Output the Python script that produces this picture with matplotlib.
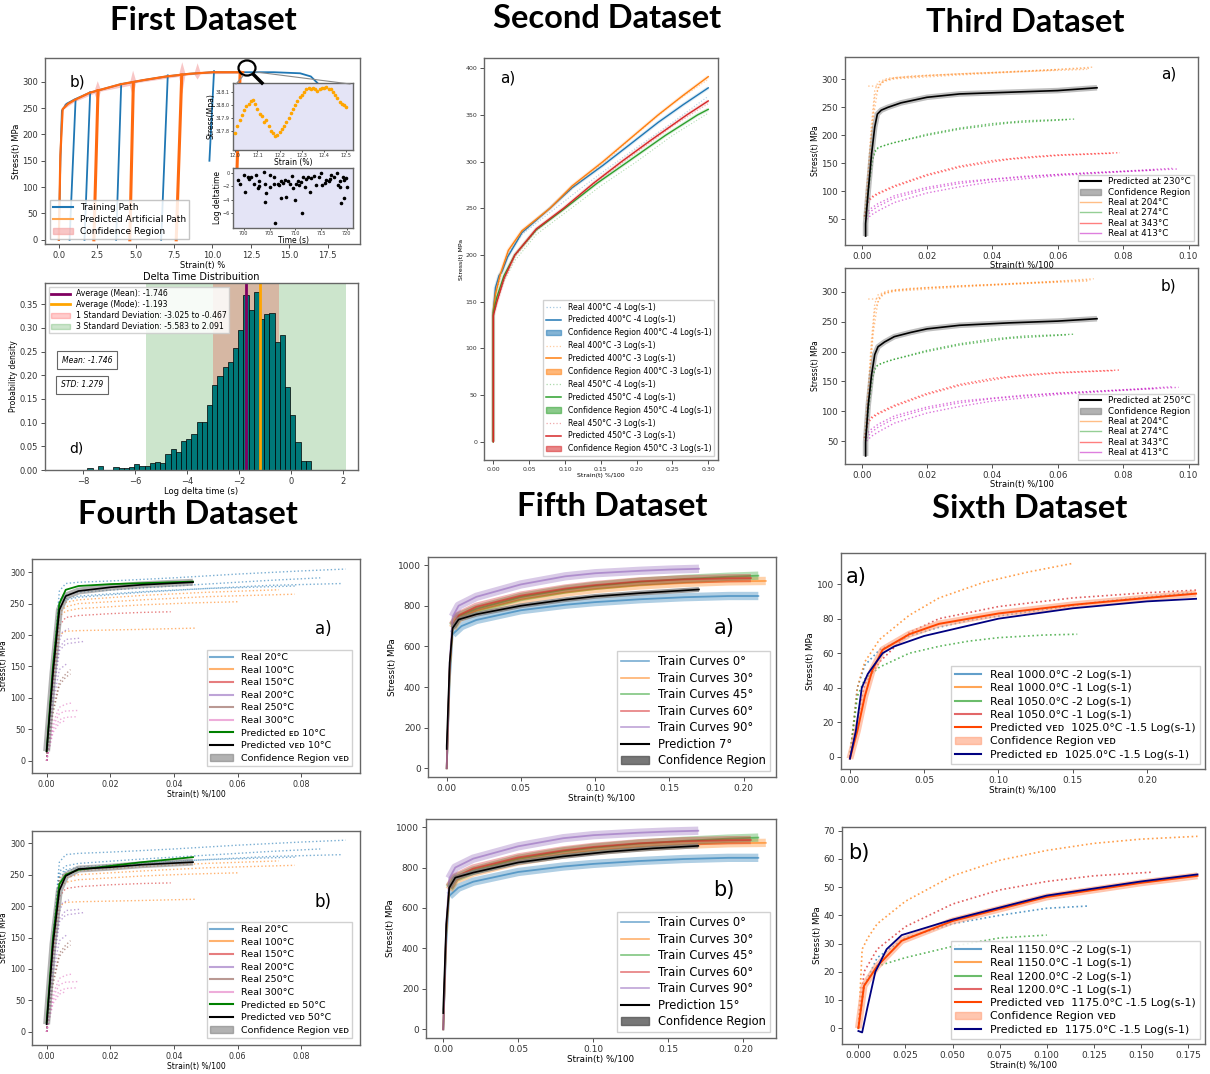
import matplotlib
matplotlib.use('Agg')
import matplotlib.pyplot as plt
import numpy as np
from matplotlib.patches import Patch, Circle
from matplotlib.lines import Line2D

plt.rcParams['font.family'] = ['DejaVu Sans']

W, H = 1210, 1074
fig = plt.figure(figsize=(W / 100, H / 100), dpi=100)


def add_ax(x0, y0, x1, y1):
    return fig.add_axes([x0 / W, 1 - y1 / H, (x1 - x0) / W, (y1 - y0) / H])


def style(ax, fs=6):
    for s in ax.spines.values():
        s.set_color('#666666')
        s.set_linewidth(1.0)
    ax.tick_params(labelsize=fs, length=3, width=0.6, colors='#333333', pad=2)


def ftitle(x, y, s):
    fig.text(x / W, 1 - y / H, s, ha='center', va='center', fontsize=23.5,
             fontweight='bold', family=['Lato', 'DejaVu Sans'])


C_BLUE, C_ORANGE, C_GREEN, C_RED = '#1f77b4', '#ff7f0e', '#2ca02c', '#d62728'
C_PURPLE, C_BROWN, C_PINK = '#9467bd', '#8c564b', '#e377c2'

# ---------------------------------------------------------------- DATA
# First dataset (b)
train_env_x = [0.0, 0.1, 0.2, 0.5, 1.0, 2.0, 3.0, 4.0, 5.5, 7.0, 8.5, 10.0, 12.0, 14.0, 15.7, 16.4, 16.85, 17.2]
train_env_y = [0, 150, 245, 258, 266, 279, 287, 295, 303, 310, 315, 318, 318, 318, 316, 310, 297, 280]
train_reload_x0 = [0.70, 1.67, 3.73, 6.66, 9.80]
train_reload_x1 = [1.09, 2.04, 4.06, 7.09, 10.10]
train_reload_ybot = [0, 0, 0, 0, 150]
train_reload_ytop = [266, 280, 296, 312, 320]
pred_env_x = [0.0, 0.1, 0.25, 0.6, 1.0, 2.0, 3.0, 4.0, 5.5, 7.0, 8.5, 10.0, 11.0, 12.0]
pred_env_y = [0, 160, 248, 258, 265, 279, 287, 295, 303, 310, 315, 318, 318, 318]
pred_reload_x0 = [2.28, 4.62, 7.64, 11.58]
pred_reload_x1 = [2.55, 4.85, 8.00, 11.80]
pred_reload_ybot = [0, 0, 0, 120]
pred_reload_ytop = [283, 298, 313, 318]
conf_x = [0.3, 1.0, 2.3, 2.5, 2.7, 4.6, 4.8, 5.0, 7.8, 8.0, 8.2, 8.8, 9.0, 9.2, 12.0]
conf_lo = [248, 262, 278, 262, 282, 293, 272, 298, 310, 278, 312, 314, 305, 315, 316]
conf_hi = [258, 268, 284, 302, 286, 298, 322, 302, 315, 338, 317, 317, 336, 318, 320]
zoom_strain = [12.00, 12.01, 12.02, 12.03, 12.04, 12.05, 12.06, 12.07, 12.08, 12.09, 12.10, 12.11,
               12.12, 12.13, 12.14, 12.15, 12.16, 12.17, 12.18, 12.19, 12.20, 12.21, 12.22, 12.23,
               12.24, 12.25, 12.26, 12.27, 12.28, 12.29, 12.30, 12.31, 12.32, 12.33, 12.34, 12.35,
               12.36, 12.37, 12.38, 12.39, 12.40, 12.41, 12.42, 12.43, 12.44, 12.45, 12.46, 12.47,
               12.48, 12.49, 12.50]
zoom_stress = [317.78, 317.84, 317.88, 317.92, 317.96, 317.99, 318.01, 318.03, 318.04, 318.01, 317.97, 317.93,
               317.91, 317.87, 317.88, 317.84, 317.80, 317.78, 317.76, 317.77, 317.79, 317.81, 317.84, 317.87,
               317.90, 317.94, 317.97, 318.00, 318.03, 318.06, 318.08, 318.10, 318.12, 318.13, 318.12, 318.13,
               318.12, 318.11, 318.12, 318.13, 318.13, 318.14, 318.12, 318.12, 318.10, 318.08, 318.05, 318.02,
               318.01, 318.00, 317.98]
dt_time = [698.8, 699.2, 700.1, 700.2, 700.8, 701.4, 701.9, 702.4, 702.7, 702.9, 703.9, 704.2, 704.3, 704.1,
           705.0, 705.1, 705.8, 705.9, 706.1, 706.6, 706.9, 707.2, 707.6, 707.9, 707.2, 708.2, 709.4, 709.6,
           710.2, 710.5, 710.7, 711.1, 711.3, 710.0, 711.8, 711.5, 712.4, 712.8, 713.1, 713.7, 714.0, 714.6,
           715.0, 715.2, 715.7, 716.0, 716.5, 717.0, 717.6, 718.1, 718.3, 718.6, 718.9, 719.2, 719.4, 719.4,
           719.9, 720.0, 718.6, 701.0, 703.0, 708.6, 709.0, 712.0, 716.8]
dt_log = [-1.1, -1.6, -0.3, -2.8, -0.6, -0.6, -1.6, -0.3, -2.3, -1.3, 0.15, -1.6, -3.0, -4.3,
          -0.35, -2.1, -0.6, -1.6, -7.4, -1.6, -1.8, -1.3, -1.5, -1.1, -3.8, -3.6, -0.5, -2.3,
          -1.6, -1.3, -1.8, -1.4, -6.0, -4.0, -2.1, -0.6, -0.7, -2.8, -0.8, -0.5, -1.8, -0.6,
          0.0, -1.8, -1.5, -1.1, -1.3, -0.3, -0.6, 0.0, -1.8, -2.1, -4.5, -0.6, -3.8, -1.1,
          -0.8, -2.1, -1.3, -0.9, -1.9, -1.2, -1.7, -1.0, -0.9]

# First dataset (d) histogram
hist_start = -8.84
hist_width = 0.2
hist_heights = [0.001, 0.0, 0.001, 0.001, 0.001, 0.004, 0.0, 0.009, 0.0, 0.0, 0.006, 0.005, 0.004, 0.007,
                0.012, 0.008, 0.008, 0.014, 0.016, 0.015, 0.034, 0.044, 0.037, 0.061, 0.065, 0.077,
                0.102, 0.102, 0.137, 0.180, 0.199, 0.217, 0.229, 0.258, 0.296, 0.370, 0.338, 0.377,
                0.320, 0.330, 0.332, 0.271, 0.285, 0.176, 0.116, 0.060, 0.020, 0.019]
dt_mean, dt_mode = -1.746, -1.193
std1_lo, std1_hi = -3.025, -0.467
std3_lo, std3_hi = -5.583, 2.091

# Second dataset
s2_pred = {
    'b': ([0, 0.0, 0.003, 0.008, 0.012, 0.02, 0.04, 0.079, 0.11, 0.153, 0.19, 0.23, 0.265, 0.30],
          [0, 140, 165, 178, 182, 198, 224, 250, 272, 296, 318, 342, 361, 379]),
    'o': ([0, 0.0, 0.003, 0.01, 0.021, 0.04, 0.079, 0.11, 0.153, 0.19, 0.23, 0.265, 0.30],
          [0, 140, 158, 180, 205, 226, 250, 274, 300, 324, 350, 371, 391]),
    'g': ([0, 0.0, 0.005, 0.015, 0.03, 0.06, 0.10, 0.145, 0.188, 0.24, 0.285, 0.30],
          [0, 138, 155, 178, 200, 227, 250, 277, 300, 328, 350, 356]),
    'r': ([0, 0.0, 0.005, 0.015, 0.03, 0.06, 0.098, 0.14, 0.179, 0.22, 0.27, 0.30],
          [0, 135, 150, 175, 200, 228, 250, 277, 300, 323, 350, 365]),
}
s2_real = {
    'b': ([0.0, 0.003, 0.01, 0.02, 0.04, 0.08, 0.12, 0.16, 0.20, 0.25, 0.30],
          [140, 160, 176, 200, 222, 246, 270, 293, 315, 342, 370]),
    'o': ([0.0, 0.003, 0.01, 0.02, 0.04, 0.08, 0.12, 0.16, 0.20, 0.25, 0.30],
          [140, 157, 178, 202, 225, 251, 278, 303, 330, 362, 388]),
    'g': ([0.0, 0.005, 0.015, 0.03, 0.06, 0.10, 0.15, 0.20, 0.25, 0.30],
          [136, 150, 172, 194, 222, 245, 274, 300, 328, 352]),
    'r': ([0.0, 0.005, 0.015, 0.03, 0.06, 0.10, 0.15, 0.20, 0.25, 0.30],
          [135, 148, 173, 198, 226, 251, 282, 310, 338, 362]),
}

# Third dataset
s3_orange = [([0.0008, 0.002, 0.003, 0.004, 0.005, 0.008, 0.015, 0.03, 0.05, 0.07],
              [55, 140, 220, 280, 295, 302, 306, 310, 315, 320]),
             ([0.0012, 0.002, 0.0035, 0.005, 0.007, 0.01, 0.02, 0.04, 0.06, 0.071],
              [55, 120, 230, 285, 298, 302, 307, 312, 318, 322]),
             ([0.002, 0.005, 0.0055, 0.007, 0.01, 0.03, 0.05, 0.069],
              [288, 288, 292, 298, 303, 310, 314, 318]),
             ([0.001, 0.0025, 0.004, 0.006, 0.01, 0.03, 0.06],
              [50, 170, 270, 295, 301, 308, 317])]
s3_green = [([0.001, 0.002, 0.003, 0.004, 0.005, 0.008, 0.012, 0.02, 0.03, 0.04, 0.05, 0.065],
             [55, 100, 150, 172, 178, 184, 190, 202, 213, 221, 226, 229]),
            ([0.0012, 0.0025, 0.0035, 0.0045, 0.006, 0.01, 0.02, 0.03, 0.045, 0.063],
             [60, 120, 160, 175, 180, 187, 200, 211, 222, 228])]
s3_red = [([0.0008, 0.0015, 0.002, 0.003, 0.005, 0.01, 0.02, 0.03, 0.04, 0.05, 0.06, 0.079],
           [55, 70, 85, 90, 97, 110, 130, 145, 155, 161, 165, 169]),
          ([0.0012, 0.002, 0.003, 0.005, 0.01, 0.02, 0.03, 0.045, 0.06, 0.077],
           [60, 80, 88, 95, 108, 128, 143, 157, 164, 168])]
s3_mag = [([0.0015, 0.003, 0.005, 0.01, 0.02, 0.03, 0.04, 0.06, 0.08, 0.097],
           [50, 58, 65, 80, 97, 108, 117, 128, 135, 140]),
          ([0.0015, 0.003, 0.005, 0.01, 0.02, 0.03, 0.04, 0.06, 0.08, 0.095],
           [55, 65, 73, 88, 104, 114, 121, 130, 136, 141]),
          ([0.0012, 0.003, 0.005, 0.01, 0.02, 0.03, 0.05, 0.07, 0.09],
           [60, 70, 78, 92, 107, 117, 127, 133, 138])]
s3a_pred_x = [0.0012, 0.0012, 0.002, 0.003, 0.004, 0.0048, 0.006, 0.008, 0.012, 0.02, 0.03, 0.045, 0.06, 0.072]
s3a_pred_y = [20, 42, 100, 165, 215, 238, 245, 250, 258, 268, 274, 277, 280, 285]
s3b_pred_x = [0.0012, 0.0012, 0.002, 0.003, 0.004, 0.005, 0.007, 0.01, 0.015, 0.02, 0.03, 0.045, 0.06, 0.072]
s3b_pred_y = [25, 48, 110, 160, 195, 208, 216, 225, 232, 238, 244, 248, 251, 255]

# Fourth dataset
s4_real = {
    'Real 20°C': (C_BLUE, [
        ([0, 0.002, 0.004, 0.006, 0.01, 0.02, 0.04, 0.06, 0.08, 0.094], [0, 150, 270, 282, 284, 286, 291, 297, 302, 305]),
        ([0, 0.002, 0.004, 0.006, 0.01, 0.03, 0.05, 0.07, 0.086], [0, 150, 255, 264, 268, 275, 281, 287, 291]),
        ([0, 0.002, 0.004, 0.006, 0.01, 0.03, 0.05, 0.07, 0.093], [0, 140, 245, 256, 260, 268, 274, 279, 282]),
        ([0, 0.002, 0.004, 0.006, 0.01, 0.03, 0.05, 0.078], [0, 145, 250, 258, 262, 269, 274, 278])]),
    'Real 100°C': (C_ORANGE, [
        ([0, 0.002, 0.004, 0.006, 0.01, 0.03, 0.05, 0.073], [0, 140, 245, 252, 256, 263, 268, 272]),
        ([0, 0.002, 0.004, 0.006, 0.01, 0.03, 0.05, 0.078], [0, 135, 235, 245, 250, 256, 261, 265]),
        ([0, 0.002, 0.004, 0.006, 0.01, 0.03, 0.045, 0.06], [0, 130, 230, 238, 242, 248, 251, 253]),
        ([0, 0.002, 0.004, 0.006, 0.01, 0.03, 0.047], [0, 120, 200, 206, 207, 209, 211])]),
    'Real 150°C': (C_RED, [
        ([0, 0.002, 0.004, 0.006, 0.01, 0.02, 0.03, 0.039], [0, 120, 215, 228, 231, 234, 236, 237])]),
    'Real 200°C': (C_PURPLE, [
        ([0, 0.002, 0.004, 0.005, 0.007], [0, 110, 190, 205, 210]),
        ([0, 0.002, 0.004, 0.006, 0.0105], [0, 105, 180, 193, 195]),
        ([0, 0.002, 0.004, 0.006, 0.012], [0, 100, 175, 186, 190]),
        ([0, 0.002, 0.004, 0.0065], [0, 90, 145, 155])]),
    'Real 250°C': (C_BROWN, [
        ([0, 0.002, 0.004, 0.006, 0.0075], [0, 80, 125, 138, 145]),
        ([0, 0.002, 0.004, 0.006, 0.0075], [0, 75, 120, 133, 138])]),
    'Real 300°C': (C_PINK, [
        ([0, 0.002, 0.004, 0.006, 0.008], [0, 60, 85, 90, 92]),
        ([0, 0.002, 0.004, 0.006, 0.01], [0, 55, 75, 79, 80]),
        ([0, 0.002, 0.004, 0.006, 0.0095], [0, 50, 65, 69, 70]),
        ([0, 0.002, 0.004, 0.006], [0, 45, 60, 64])]),
}
s4a_ed_x = [0, 0.002, 0.004, 0.006, 0.01, 0.02, 0.046]
s4a_ed_y = [15, 150, 250, 272, 278, 281, 285]
s4a_ved_x = [0, 0.002, 0.004, 0.006, 0.01, 0.02, 0.03, 0.046]
s4a_ved_y = [15, 140, 240, 262, 270, 276, 280, 284]
s4b_ed_x = [0, 0.002, 0.004, 0.006, 0.01, 0.02, 0.03, 0.046]
s4b_ed_y = [15, 150, 235, 250, 258, 264, 270, 278]
s4b_ved_x = [0, 0.002, 0.004, 0.006, 0.01, 0.02, 0.03, 0.046]
s4b_ved_y = [12, 140, 225, 248, 259, 262, 266, 270]

# Fifth dataset
s5_train = [
    ('Train Curves 0°', C_BLUE, [0, 0.002, 0.004, 0.01, 0.02, 0.05, 0.08, 0.10, 0.13, 0.16, 0.19, 0.21],
     [0, 420, 660, 700, 730, 778, 805, 818, 832, 842, 848, 848]),
    ('Train Curves 30°', C_ORANGE, [0, 0.002, 0.004, 0.008, 0.02, 0.05, 0.08, 0.10, 0.13, 0.16, 0.19, 0.215],
     [0, 470, 690, 738, 775, 830, 865, 882, 900, 912, 920, 922]),
    ('Train Curves 45°', C_GREEN, [0, 0.002, 0.004, 0.008, 0.02, 0.05, 0.08, 0.10, 0.13, 0.16, 0.19, 0.21],
     [0, 480, 700, 748, 785, 843, 880, 898, 918, 932, 943, 948]),
    ('Train Curves 60°', C_RED, [0, 0.002, 0.004, 0.008, 0.02, 0.05, 0.08, 0.10, 0.13, 0.16, 0.19, 0.205],
     [0, 490, 705, 752, 795, 850, 885, 902, 920, 930, 935, 936]),
    ('Train Curves 90°', C_PURPLE, [0, 0.002, 0.004, 0.008, 0.02, 0.05, 0.08, 0.10, 0.13, 0.15, 0.17],
     [0, 520, 746, 800, 844, 905, 945, 960, 972, 978, 982]),
]
s5a_pred_x = [0, 0, 0.002, 0.004, 0.008, 0.02, 0.05, 0.08, 0.10, 0.13, 0.17]
s5a_pred_y = [95, 110, 520, 690, 732, 758, 800, 830, 846, 862, 880]
s5b_pred_x = [0, 0, 0.002, 0.004, 0.008, 0.02, 0.05, 0.08, 0.11, 0.14, 0.17]
s5b_pred_y = [80, 100, 520, 700, 750, 775, 825, 855, 878, 895, 907]

# Sixth dataset
s6a_real = [
    ('Real 1000.0°C -2 Log(s-1)', C_BLUE, [0, 0.005, 0.01, 0.02, 0.04, 0.06, 0.08, 0.12, 0.17, 0.23],
     [0, 40, 53, 62, 70, 75, 79, 84, 90, 95]),
    ('Real 1000.0°C -1 Log(s-1)', C_ORANGE, [0, 0.005, 0.01, 0.02, 0.04, 0.06, 0.09, 0.12, 0.15],
     [0, 40, 55, 68, 82, 92, 101, 107, 112]),
    ('Real 1050.0°C -2 Log(s-1)', C_GREEN, [0, 0.005, 0.01, 0.02, 0.04, 0.06, 0.08, 0.10, 0.13, 0.153],
     [0, 35, 45, 52, 60, 64, 67, 69, 70.5, 71]),
    ('Real 1050.0°C -1 Log(s-1)', C_RED, [0, 0.01, 0.02, 0.04, 0.06, 0.10, 0.15, 0.20, 0.233],
     [0, 42, 55, 72, 80, 87, 92, 95, 96.5]),
]
s6a_ved_x = [0, 0.005, 0.01, 0.015, 0.022, 0.04, 0.06, 0.10, 0.15, 0.20, 0.233]
s6a_ved_y = [-1, 15, 35, 50, 62, 71, 77, 83, 88, 92, 94.5]
s6a_ed_x = [0, 0.004, 0.008, 0.012, 0.022, 0.03, 0.05, 0.10, 0.15, 0.20, 0.233]
s6a_ed_y = [-1, 15, 40, 48, 60, 64, 70, 80, 86, 90, 91.5]
s6b_real = [
    ('Real 1150.0°C -2 Log(s-1)', C_BLUE, [0, 0.003, 0.01, 0.025, 0.05, 0.075, 0.10, 0.122],
     [0, 15, 25, 32, 37, 40, 42.5, 43.3]),
    ('Real 1150.0°C -1 Log(s-1)', C_ORANGE, [0, 0.002, 0.005, 0.01, 0.025, 0.05, 0.075, 0.10, 0.125, 0.15, 0.18],
     [0, 28, 32, 37, 45, 54, 59.5, 63, 65.5, 67, 68]),
    ('Real 1200.0°C -2 Log(s-1)', C_GREEN, [0, 0.003, 0.01, 0.025, 0.05, 0.075, 0.10],
     [0, 15, 22, 25, 29, 32, 33]),
    ('Real 1200.0°C -1 Log(s-1)', C_RED, [0, 0.003, 0.01, 0.025, 0.05, 0.075, 0.10, 0.125, 0.156],
     [0, 20, 28, 36, 44, 49, 52, 54, 55.3]),
]
s6b_ved_x = [0, 0.003, 0.01, 0.023, 0.05, 0.10, 0.15, 0.18]
s6b_ved_y = [0, 15, 22, 31, 38, 46.5, 51.5, 54]
s6b_ed_x = [0, 0.002, 0.005, 0.009, 0.015, 0.023, 0.05, 0.10, 0.15, 0.18]
s6b_ed_y = [-1, -1.5, 8, 20, 28, 33, 38.5, 47, 52, 54.5]

# ---------------------------------------------------------------- TITLES
ftitle(203, 21, 'First Dataset')
ftitle(607, 19, 'Second Dataset')
ftitle(1025, 23, 'Third Dataset')
ftitle(188, 515, 'Fourth Dataset')
ftitle(612, 506, 'Fifth Dataset')
ftitle(1030, 509, 'Sixth Dataset')

# ---------------------------------------------------------------- FIRST (b)
ax = add_ax(45, 58, 360, 244)
style(ax, 6)
ax.fill_between(conf_x, conf_lo, conf_hi, color='#f4a0a0', alpha=0.6, lw=0)
ax.plot(train_env_x, train_env_y, color=C_BLUE, lw=1.3)
for x0, x1, yb, yt in zip(train_reload_x0, train_reload_x1, train_reload_ybot, train_reload_ytop):
    ax.plot([x0, x1], [yb, yt], color=C_BLUE, lw=1.3)
ax.plot(pred_env_x, pred_env_y, color='#ff6a10', lw=1.6)
for x0, x1, yb, yt in zip(pred_reload_x0, pred_reload_x1, pred_reload_ybot, pred_reload_ytop):
    ax.plot([x0, x1], [yb, yt], color='#ff6a10', lw=2.2)
ax.set_xlim(-0.9, 19.6)
ax.set_ylim(-8, 345)
ax.set_xticks(np.arange(0, 17.6, 2.5))
ax.set_yticks(np.arange(0, 301, 50))
ax.set_xlabel('Strain(t) %', fontsize=6, labelpad=1)
ax.set_ylabel('Stress(t) MPa', fontsize=6, labelpad=1)
ax.text(0.7, 300, 'b)', fontsize=11, va='center')
h1 = [Line2D([], [], color=C_BLUE, lw=1.5), Line2D([], [], color='#ffa54f', lw=1.5),
      Patch(color='#f4a0a0', alpha=0.6)]
ax.legend(h1, ['Training Path', 'Predicted Artificial Path', 'Confidence Region'],
          loc='lower left', fontsize=6.5, borderpad=0.35, labelspacing=0.35, handlelength=2.2,
          framealpha=0.85, edgecolor='#bbbbbb', fancybox=False, bbox_to_anchor=(0.0, 0.0))

ins1 = add_ax(233, 83, 353, 150)
style(ins1, 3.5)
ins1.set_facecolor('#e4e4f6')
ins1.scatter(zoom_strain, zoom_stress, s=2.5, color='orange', zorder=3)
ins1.set_xlim(11.99, 12.53)
ins1.set_ylim(317.65, 318.17)
ins1.set_xticks([12.0, 12.1, 12.2, 12.3, 12.4, 12.5])
ins1.set_yticks([317.8, 317.9, 318.0, 318.1])
ins1.tick_params(length=1.5, pad=1)
ins1.set_xlabel('Strain (%)', fontsize=5.5, labelpad=0)
ins1.set_ylabel('Stress(Mpa)', fontsize=5.5, labelpad=0)

ins2 = add_ax(233, 168, 353, 228)
style(ins2, 3.5)
ins2.set_facecolor('#e4e4f6')
ins2.scatter(dt_time, dt_log, s=2.5, color='black', zorder=3)
ins2.set_xlim(697.9, 721.2)
ins2.set_ylim(-8.2, 0.7)
ins2.set_xticks([700, 705, 710, 715, 720])
ins2.set_yticks([0, -2, -4, -6])
ins2.tick_params(length=1.5, pad=1)
ins2.set_xlabel('Time (s)', fontsize=5.5, labelpad=0)
ins2.set_ylabel('Log deltatime', fontsize=5.5, labelpad=0)


def fl(x0, y0, x1, y1, **kw):
    fig.add_artist(Line2D([x0 / W, x1 / W], [1 - y0 / H, 1 - y1 / H], transform=fig.transFigure, **kw))


fl(243, 76, 236, 84, color='#888888', lw=0.8)
fl(256, 72, 350, 84, color='#888888', lw=0.8)
fl(254, 75, 262, 83, color='black', lw=2.5)
fig.add_artist(Circle((247 / W, 1 - 68 / H), 8.5 / W, transform=fig.transFigure,
                      fill=False, ec='black', lw=1.6))

# ---------------------------------------------------------------- FIRST (d)
ax = add_ax(45, 283, 358, 470)
style(ax, 6)
ax.axvspan(std3_lo, std3_hi, color='green', alpha=0.2, lw=0)
ax.axvspan(std1_lo, std1_hi, color='red', alpha=0.2, lw=0)
lefts = hist_start + hist_width * np.arange(len(hist_heights))
ax.bar(lefts, hist_heights, width=hist_width, align='edge', color='#007878', edgecolor='black', lw=0.5)
ax.axvline(dt_mean, color='#800060', lw=2)
ax.axvline(dt_mode, color='orange', lw=2)
ax.set_xlim(-9.47, 2.57)
ax.set_ylim(0, 0.395)
ax.set_xticks([-8, -6, -4, -2, 0, 2])
ax.set_yticks(np.arange(0, 0.351, 0.05))
ax.yaxis.set_major_formatter(matplotlib.ticker.FormatStrFormatter('%.2f'))
ax.set_xlabel('Log delta time (s)', fontsize=6, labelpad=1)
ax.set_ylabel('Probability density', fontsize=5.5, labelpad=1)
ax.set_title('Delta Time Distribuition', fontsize=7, pad=2)
hd = [Line2D([], [], color='#800060', lw=2), Line2D([], [], color='orange', lw=2),
      Patch(color='red', alpha=0.2), Patch(color='green', alpha=0.2)]
ax.legend(hd, ['Average (Mean): %.3f' % dt_mean, 'Average (Mode): %.3f' % dt_mode,
               '1 Standard Deviation: %.3f to %.3f' % (std1_lo, std1_hi),
               '3 Standard Deviation: %.3f to %.3f' % (std3_lo, std3_hi)],
          loc='upper left', fontsize=5.6, borderpad=0.3, labelspacing=0.25, handlelength=2.4,
          framealpha=0.85, edgecolor='#cccccc', fancybox=False)
bb = dict(boxstyle='square,pad=0.6', fc='white', ec='#666666', lw=0.8)
ax.text(-7.85, 0.232, 'Mean: -1.746', fontsize=5.5, style='italic', ha='center', va='center', bbox=bb)
ax.text(-8.05, 0.180, 'STD: 1.279', fontsize=5.5, style='italic', ha='center', va='center', bbox=bb)
ax.text(-8.55, 0.046, 'd)', fontsize=10, va='center')

# ---------------------------------------------------------------- SECOND
ax = add_ax(484, 58, 718, 460)
style(ax, 4.5)
names2 = [('b', C_BLUE, '400°C -4'), ('o', C_ORANGE, '400°C -3'), ('g', C_GREEN, '450°C -4'), ('r', C_RED, '450°C -3')]
h2, l2 = [], []
for k, c, lab in names2:
    rx, ry = s2_real[k]
    px, py = s2_pred[k]
    ax.plot(rx, ry, color=c, ls=':', lw=0.8, alpha=0.35)
    ax.plot(px, py, color=c, lw=2.5, alpha=0.15, solid_capstyle='butt')
    ax.plot(px, py, color=c, lw=1.0)
    h2 += [Line2D([], [], color=c, ls=':', lw=0.9, alpha=0.4), Line2D([], [], color=c, lw=1.1),
           Patch(color=c, alpha=0.55)]
    l2 += ['Real %s Log(s-1)' % lab, 'Predicted %s Log(s-1)' % lab, 'Confidence Region %s Log(s-1)' % lab]
ax.set_xlim(-0.013, 0.3136)
ax.set_ylim(-19.6, 411)
ax.set_xticks(np.arange(0, 0.301, 0.05))
ax.set_yticks(np.arange(0, 401, 50))
ax.xaxis.set_major_formatter(matplotlib.ticker.FormatStrFormatter('%.2f'))
ax.set_xlabel('Strain(t) %/100', fontsize=4.5, labelpad=1)
ax.set_ylabel('Stress(t) MPa', fontsize=4.5, labelpad=1)
ax.text(0.009, 390, 'a)', fontsize=11, va='center')
ax.legend(h2, l2, loc='lower right', fontsize=5.6, borderpad=0.35, labelspacing=0.5,
          handlelength=2.0, framealpha=0.9, edgecolor='#cccccc', fancybox=False)

# ---------------------------------------------------------------- THIRD
def third(rect, ylim, px, py, temp, tag):
    ax = add_ax(*rect)
    style(ax, 6.3)
    for cx, cy in s3_orange:
        ax.plot(cx, cy, color=C_ORANGE, ls=':', lw=1.0, alpha=0.45)
    for cx, cy in s3_green:
        ax.plot(cx, cy, color=C_GREEN, ls=':', lw=1.0, alpha=0.7)
    for cx, cy in s3_red:
        ax.plot(cx, cy, color='red', ls=':', lw=1.0, alpha=0.55)
    for cx, cy in s3_mag:
        ax.plot(cx, cy, color='m', ls=':', lw=1.0, alpha=0.55)
    ax.plot(px, py, color='gray', lw=4, alpha=0.5, solid_capstyle='butt')
    ax.plot(px, py, color='black', lw=1.2)
    ax.set_xlim(-0.0051, 0.1029)
    ax.set_ylim(*ylim)
    ax.set_xticks(np.arange(0, 0.101, 0.02))
    ax.set_yticks(np.arange(50, 301, 50))
    ax.xaxis.set_major_formatter(matplotlib.ticker.FormatStrFormatter('%.2f'))
    ax.set_xlabel('Strain(t) %/100', fontsize=6, labelpad=0)
    ax.set_ylabel('Stress(t) MPa', fontsize=5.5, labelpad=1)
    ax.text(0.094, ylim[1] - 30, tag, fontsize=11, va='center', ha='center')
    hh = [Line2D([], [], color='black', lw=1.5), Patch(color='gray', alpha=0.6),
          Line2D([], [], color=C_ORANGE, alpha=0.5, lw=1), Line2D([], [], color=C_GREEN, alpha=0.5, lw=1),
          Line2D([], [], color='red', alpha=0.5, lw=1), Line2D([], [], color='m', alpha=0.5, lw=1)]
    ll = ['Predicted at %s' % temp, 'Confidence Region', 'Real at 204°C', 'Real at 274°C',
          'Real at 343°C', 'Real at 413°C']
    ax.legend(hh, ll, loc='lower right', fontsize=6.3, borderpad=0.3, labelspacing=0.15,
              handlelength=2.4, framealpha=0.9, edgecolor='#cccccc', fancybox=False,
              bbox_to_anchor=(1.0, 0.0))


third((845, 57, 1198, 245), (4, 340), s3a_pred_x, s3a_pred_y, '230°C', 'a)')
third((845, 268, 1198, 464), (11.5, 340), s3b_pred_x, s3b_pred_y, '250°C', 'b)')

# ---------------------------------------------------------------- FOURTH
SC_VED = 'ᴠᴇᴅ'
SC_ED = 'ᴇᴅ'


def fourth(rect, ylim, edx, edy, vedx, vedy, temp, tag, tagy):
    ax = add_ax(*rect)
    style(ax, 5.8)
    hh, ll = [], []
    for lab, (c, curves) in s4_real.items():
        for cx, cy in curves:
            ax.plot(cx, cy, color=c, ls=':', lw=1.0, alpha=0.6)
        hh.append(Line2D([], [], color=c, lw=1.5, alpha=0.6))
        ll.append(lab)
    ax.plot(vedx, vedy, color='gray', lw=5, alpha=0.6, solid_capstyle='butt')
    ax.plot(edx, edy, color='green', lw=1.3)
    ax.plot(vedx, vedy, color='black', lw=1.2)
    hh += [Line2D([], [], color='green', lw=1.5), Line2D([], [], color='black', lw=1.5),
           Patch(color='gray', alpha=0.6)]
    ll += ['Predicted %s %s' % (SC_ED, temp), 'Predicted %s %s' % (SC_VED, temp), 'Confidence Region %s' % SC_VED]
    ax.set_xlim(-0.0046, 0.0985)
    ax.set_ylim(*ylim)
    ax.set_xticks(np.arange(0, 0.081, 0.02))
    ax.set_yticks(np.arange(0, 301, 50))
    ax.xaxis.set_major_formatter(matplotlib.ticker.FormatStrFormatter('%.2f'))
    ax.set_xlabel('Strain(t) %/100', fontsize=5.5, labelpad=1)
    ax.set_ylabel('Stress(t) MPa', fontsize=5.5, labelpad=1)
    ax.text(0.087, tagy, tag, fontsize=12, va='center', ha='center')
    ax.legend(hh, ll, loc='lower right', fontsize=6.8, borderpad=0.35, labelspacing=0.38,
              handlelength=2.4, framealpha=0.9, edgecolor='#cccccc', fancybox=False,
              bbox_to_anchor=(0.99, 0.01))


fourth((32, 559, 360, 773), (-19.6, 321), s4a_ed_x, s4a_ed_y, s4a_ved_x, s4a_ved_y, '10°C', 'a)', 210)
fourth((32, 831, 360, 1045), (-21, 319.6), s4b_ed_x, s4b_ed_y, s4b_ved_x, s4b_ved_y, '50°C', 'b)', 207)

# ---------------------------------------------------------------- FIFTH
def fifth(rect, xlim, px, py, ang, tag):
    ax = add_ax(*rect)
    style(ax, 6.5)
    hh, ll = [], []
    for lab, c, cx, cy in s5_train:
        ax.plot(cx[2:], cy[2:], color=c, lw=6, alpha=0.35, solid_capstyle='butt')
        ax.plot(cx, cy, color=c, lw=1.3, alpha=0.6)
        hh.append(Line2D([], [], color=c, lw=1.2, alpha=0.6))
        ll.append(lab)
    ax.plot(px[3:], py[3:], color='gray', lw=3.5, alpha=0.8, solid_capstyle='butt')
    ax.plot(px, py, color='black', lw=1.2)
    hh += [Line2D([], [], color='black', lw=1.5), Patch(color='#555555', alpha=0.8)]
    ll += ['Prediction %s' % ang, 'Confidence Region']
    ax.set_xlim(*xlim)
    ax.set_ylim(-43, 1040)
    ax.set_xticks(np.arange(0, 0.201, 0.05))
    ax.set_yticks(np.arange(0, 1001, 200))
    ax.xaxis.set_major_formatter(matplotlib.ticker.FormatStrFormatter('%.2f'))
    ax.set_xlabel('Strain(t) %/100', fontsize=6.3, labelpad=1)
    ax.set_ylabel('Stress(t) MPa', fontsize=6.3, labelpad=1)
    ax.text(0.187, 690, tag, fontsize=15, va='center', ha='center')
    ax.legend(hh, ll, loc='lower right', fontsize=8.3, borderpad=0.35, labelspacing=0.3,
              handlelength=2.4, framealpha=0.9, edgecolor='#cccccc', fancybox=False,
              bbox_to_anchor=(1.0, 0.0))


fifth((428, 557, 776, 777), (-0.0126, 0.2219), s5a_pred_x, s5a_pred_y, '7°', 'a)')
fifth((426, 819, 776, 1038), (-0.0115, 0.2218), s5b_pred_x, s5b_pred_y, '15°', 'b)')

# ---------------------------------------------------------------- SIXTH
def sixth(rect, xlim, ylim, xt, yt, reals, vx, vy, ex, ey, temp, tag, tagy, fmt):
    ax = add_ax(*rect)
    style(ax, 6.5)
    hh, ll = [], []
    for lab, c, cx, cy in reals:
        ax.plot(cx, cy, color=c, ls=':', lw=1.2, alpha=0.75)
        hh.append(Line2D([], [], color=c, lw=1.5, alpha=0.7))
        ll.append(lab)
    ax.plot(vx, vy, color='lightsalmon', lw=5, alpha=0.6, solid_capstyle='butt')
    ax.plot(vx, vy, color='#ff4500', lw=1.4)
    ax.plot(ex, ey, color='#000080', lw=1.3)
    hh += [Line2D([], [], color='#ff4500', lw=1.5), Patch(color='lightsalmon', alpha=0.6),
           Line2D([], [], color='#000080', lw=1.5)]
    ll += ['Predicted %s  %s -1.5 Log(s-1)' % (SC_VED, temp), 'Confidence Region %s' % SC_VED,
           'Predicted %s  %s -1.5 Log(s-1)' % (SC_ED, temp)]
    ax.set_xlim(*xlim)
    ax.set_ylim(*ylim)
    ax.set_xticks(xt)
    ax.set_yticks(yt)
    ax.xaxis.set_major_formatter(matplotlib.ticker.FormatStrFormatter(fmt))
    ax.set_xlabel('Strain(t) %/100', fontsize=6.3, labelpad=1)
    ax.set_ylabel('Stress(t) MPa', fontsize=6.3, labelpad=1)
    ax.text(xlim[0] + 0.003, tagy, tag, fontsize=15, va='center', ha='left')
    ax.legend(hh, ll, loc='lower right', fontsize=7.9, borderpad=0.35, labelspacing=0.3,
              handlelength=2.4, framealpha=0.9, edgecolor='#cccccc', fancybox=False,
              bbox_to_anchor=(1.0, 0.0))


sixth((841, 553, 1205, 769), (-0.006, 0.239), (-7, 118), np.arange(0, 0.201, 0.05), np.arange(0, 101, 20),
      s6a_real, s6a_ved_x, s6a_ved_y, s6a_ed_x, s6a_ed_y, '1025.0°C', 'a)', 104, '%.2f')
sixth((842, 827, 1205, 1044), (-0.0087, 0.184), (-5.6, 71.3), np.arange(0, 0.176, 0.025), np.arange(0, 71, 10),
      s6b_real, s6b_ved_x, s6b_ved_y, s6b_ed_x, s6b_ed_y, '1175.0°C', 'b)', 62, '%.3f')

fig.savefig('out.png', dpi=100, facecolor='white')
